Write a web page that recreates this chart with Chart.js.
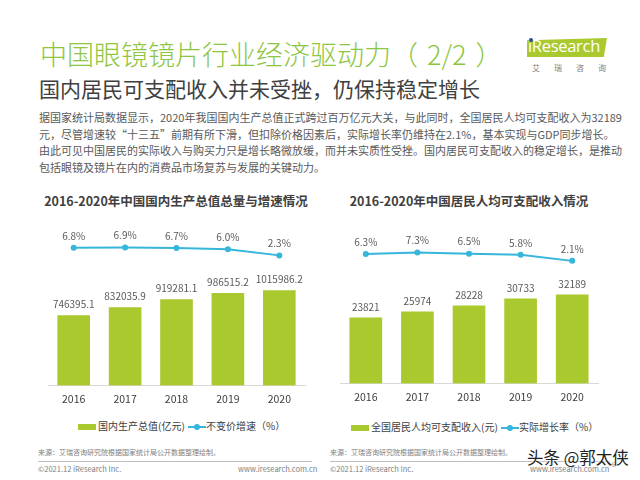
<!DOCTYPE html>
<html lang="zh-CN">
<head>
<meta charset="utf-8">
<title>中国眼镜镜片行业经济驱动力（2/2）</title>
<script src="https://cdn.jsdelivr.net/npm/chart.js@4.4.0/dist/chart.umd.min.js"></script>
<style>
    html, body {
        margin: 0;
        padding: 0;
        background: #ffffff;
    }
    body {
        width: 640px;
        height: 480px;
        position: relative;
        overflow: hidden;
        font-family: 'Noto Sans CJK SC', 'Open Sans', sans-serif;
    }
    .abs {
        position: absolute;
        white-space: nowrap;
    }
    #titulo {
        left: 40px;
        top: 36px;
        font-size: 27px;
        line-height: 36px;
        font-weight: 300;
        color: #8dc63f;
    }
    #titulo span {
        margin: 0 9px;
    }
    #subtitulo {
        left: 39px;
        top: 75px;
        font-size: 21px;
        line-height: 26px;
        color: #404040;
    }
    #texto {
        left: 39px;
        top: 109px;
        font-size: 11px;
        line-height: 16.5px;
        color: #595959;
    }
    .titulo-grafico {
        top: 192px;
        font-size: 12.5px;
        line-height: 18px;
        font-weight: bold;
        color: #404040;
        transform: translateX(-50%);
    }
    canvas {
        position: absolute;
    }
    .leyenda {
        font-size: 10px;
        line-height: 12px;
        color: #404040;
    }
    .caja {
        display: inline-block;
        width: 18px;
        height: 6px;
        background: #a9c92f;
        vertical-align: middle;
        margin-right: 2px;
    }
    .linea {
        display: inline-block;
        position: relative;
        width: 18px;
        height: 2px;
        background: #35b6da;
        vertical-align: middle;
    }
    .linea::after {
        content: '';
        position: absolute;
        left: 6px;
        top: -2px;
        width: 6px;
        height: 6px;
        border-radius: 3px;
        background: #35b6da;
    }
    .fuente {
        top: 447px;
        font-size: 7px;
        line-height: 10px;
        color: #808080;
    }
    .pie {
        top: 464px;
        font-size: 7.5px;
        line-height: 10px;
        color: #808080;
    }
    .separador {
        top: 461px;
        height: 1px;
        background: #bfbfbf;
    }
</style>
</head>
<body>

<div id="titulo" class="abs">中国眼镜镜片行业经济驱动力（<span>2/2</span>）</div>
<div id="subtitulo" class="abs">国内居民可支配收入并未受挫，仍保持稳定增长</div>
<div id="texto" class="abs">据国家统计局数据显示，2020年我国国内生产总值正式跨过百万亿元大关，与此同时，全国居民人均可支配收入为32189<br>元，尽管增速较“十三五”前期有所下滑，但扣除价格因素后，实际增长率仍维持在2.1%，基本实现与GDP同步增长。<br>由此可见中国居民的实际收入与购买力只是增长略微放缓，而并未实质性受挫。国内居民可支配收入的稳定增长，是推动<br>包括眼镜及镜片在内的消费品市场复苏与发展的关键动力。</div>

<!-- logo -->
<div class="abs" style="left:527px;top:38px;width:80px;height:19px;background:#a9c92f;clip-path:polygon(0 12%,100% 0,96% 100%,0 100%);"></div>
<div class="abs" style="left:528px;top:35px;font-family:'Open Sans',sans-serif;font-size:16.5px;line-height:22px;color:#ffffff;letter-spacing:-0.3px;">iResearch</div>
<div class="abs" style="left:529px;top:38px;width:4px;height:4px;border-radius:2px;background:#1f4e9c;"></div>
<div class="abs" style="left:532px;top:63px;font-size:8px;line-height:10px;color:#7f7f7f;letter-spacing:14px;">艾瑞咨询</div>

<div class="abs titulo-grafico" style="left:176px;">2016-2020年中国国内生产总值总量与增速情况</div>
<div class="abs titulo-grafico" style="left:469px;">2016-2020年中国居民人均可支配收入情况</div>

<canvas id="pibChart" width="275" height="190" style="left:40px;top:222px;"></canvas>
<canvas id="ingresoChart" width="276" height="188" style="left:332px;top:222px;"></canvas>

<div class="abs leyenda" style="left:78px;top:420px;"><span class="caja"></span>国内生产总值(亿元)</div>
<div class="abs leyenda" style="left:188px;top:420px;"><span class="linea"></span>不变价增速（%）</div>
<div class="abs leyenda" style="left:351px;top:421px;"><span class="caja"></span>全国居民人均可支配收入(元)</div>
<div class="abs leyenda" style="left:501px;top:421px;"><span class="linea"></span>实际增长率（%）</div>

<div class="abs fuente" style="left:38px;">来源：艾瑞咨询研究院根据国家统计局公开数据整理绘制。</div>
<div class="abs fuente" style="left:330px;">来源：艾瑞咨询研究院根据国家统计局公开数据整理绘制。</div>
<div class="abs separador" style="left:38px;width:274px;"></div>
<div class="abs separador" style="left:330px;width:280px;"></div>
<div class="abs pie" style="left:38px;">©2021.12 iResearch Inc.</div>
<div class="abs pie" style="left:238px;">www.iresearch.com.cn</div>
<div class="abs pie" style="left:330px;">©2021.12 iResearch Inc.</div>
<div class="abs pie" style="left:530px;">www.iresearch.com.cn</div>
<div class="abs" style="left:612px;top:460px;font-size:6px;color:#808080;">6</div>
<div class="abs" style="left:527px;top:446px;font-size:16.5px;line-height:22px;color:#222222;text-shadow:0 0 2px #fff,0 0 2px #fff;">头条 @郭太侠</div>

<script>
// ========== DATOS ==========
const anios = ['2016', '2017', '2018', '2019', '2020'];
const pibTotal = [746395.1, 832035.9, 919281.1, 986515.2, 1015986.2];
const pibCrecimiento = [6.8, 6.9, 6.7, 6.0, 2.3];
const ingresoPerCapita = [23821, 25974, 28228, 30733, 32189];
const ingresoCrecimiento = [6.3, 7.3, 6.5, 5.8, 2.1];

// ========== COLORES ==========
const VERDE = '#a9c92f';
const CIAN = '#35b6da';
const FUENTE = "'Noto Sans CJK SC', 'Open Sans', sans-serif";

// ========== PLUGIN DE ETIQUETAS ==========
// Escribe el valor encima de cada barra y de cada punto
const etiquetasPlugin = {
    id: 'etiquetas',
    afterDatasetsDraw(chart, args, opts) {
        const ctx = chart.ctx;
        chart.data.datasets.forEach((ds, i) => {
            const meta = chart.getDatasetMeta(i);
            const esBarra = meta.type === 'bar';
            const formato = esBarra ? opts.formatoBarra : opts.formatoLinea;
            meta.data.forEach((el, j) => {
                ctx.save();
                ctx.font = '10px ' + FUENTE;
                ctx.fillStyle = '#595959';
                ctx.textAlign = 'center';
                ctx.textBaseline = 'bottom';
                ctx.fillText(formato(ds.data[j]), el.x, el.y - (esBarra ? 6 : 7));
                ctx.restore();
            });
        });
    }
};

// ========== CONFIGURACIÓN ==========
function crearGrafico(id, barras, linea, escalas, padding, formatoBarra) {
    const ctx = document.getElementById(id).getContext('2d');
    return new Chart(ctx, {
        type: 'bar',
        data: {
            labels: anios,
            datasets: [{
                type: 'line',
                data: linea,
                yAxisID: 'y1',
                borderColor: CIAN,
                backgroundColor: CIAN,
                borderWidth: 2,
                tension: 0,
                pointRadius: 3,
                pointBackgroundColor: CIAN,
                pointBorderWidth: 0,
                order: 0
            }, {
                type: 'bar',
                data: barras,
                yAxisID: 'y',
                backgroundColor: VERDE,
                barThickness: 32,
                order: 1
            }]
        },
        options: {
            responsive: false,
            animation: false,
            layout: { padding: padding },
            plugins: {
                legend: { display: false },
                tooltip: { enabled: false },
                etiquetas: {
                    formatoBarra: formatoBarra,
                    formatoLinea: v => v.toFixed(1) + '%'
                }
            },
            scales: {
                x: {
                    grid: { display: false, drawTicks: false },
                    border: { display: true, color: '#d9d9d9', width: 1 },
                    ticks: {
                        padding: 7,
                        color: '#404040',
                        font: { family: FUENTE, size: 10.5 }
                    }
                },
                y: {
                    display: false,
                    min: 0,
                    max: escalas.barraMax
                },
                y1: {
                    display: false,
                    min: escalas.lineaMin,
                    max: escalas.lineaMax
                }
            }
        },
        plugins: [etiquetasPlugin]
    });
}

crearGrafico('pibChart', pibTotal, pibCrecimiento,
    { barraMax: 1706000, lineaMin: -74.7, lineaMax: 19.7 },
    { left: 8, right: 10, top: 3, bottom: 0 },
    v => v.toFixed(1));

crearGrafico('ingresoChart', ingresoPerCapita, ingresoCrecimiento,
    { barraMax: 57190, lineaMin: -73.1, lineaMax: 23.5 },
    { left: 8, right: 10, top: 3, bottom: 0 },
    v => String(v));
</script>
</body>
</html>
